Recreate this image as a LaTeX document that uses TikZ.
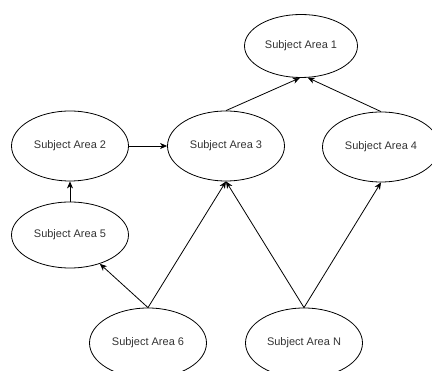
\documentclass[tikz,border=0pt]{standalone}
\usepackage{fontspec}
\setmainfont{Liberation Sans}
\usetikzlibrary{shapes.geometric,arrows.meta}
\begin{document}
\begin{tikzpicture}[x=1pt,y=-1pt,
  area/.style={ellipse,draw=black,line width=0.8pt,inner sep=0pt,
    minimum width=117pt,minimum height=70pt,text=black!80,
    font=\fontsize{11pt}{13pt}\selectfont},
  link/.style={draw=black,line width=0.8pt,-{Stealth[length=7pt,width=6pt,inset=2pt]}}]
\useasboundingbox (0,0) rectangle (432,371);
\node[area,minimum width=113pt,minimum height=63pt] (e1) at (301,46) {Subject Area 1};
\node[area] (e2) at (70,146) {Subject Area 2};
\node[area] (e3) at (226,146) {Subject Area 3};
\node[area] (e4) at (381,147) {Subject Area 4};
\node[area,minimum height=66pt] (e5) at (70,235) {Subject Area 5};
\node[area] (e6) at (148,343) {Subject Area 6};
\node[area] (eN) at (304,343) {Subject Area N};
\draw[link] (e2.east) -- (e3.west);
\draw[link] (e5.north) -- (e2.south);
\draw[link] (e6.north) -- (e5.-44);
\draw[link] (e6.north) -- (e3.south);
\draw[link] (eN.north) -- (e3.south);
\draw[link] (eN.north) -- (e4.south);
\draw[link] (e3.north) -- (e1.-92);
\draw[link] (e4.north) -- (e1.-78);
\end{tikzpicture}
\end{document}
